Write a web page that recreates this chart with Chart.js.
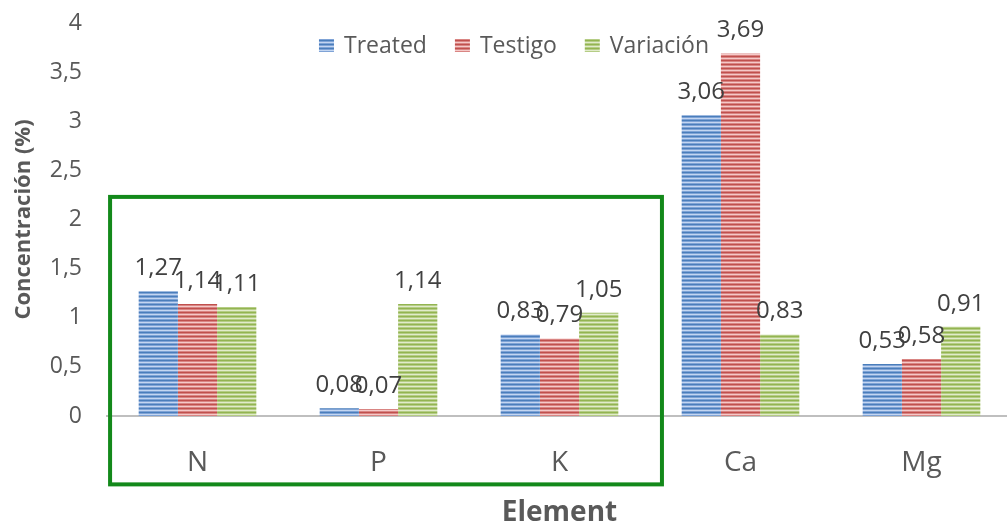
<!DOCTYPE html>
<html>
<head>
<meta charset="utf-8">
<script src="https://cdn.jsdelivr.net/npm/chart.js@4"></script>
<style>
html, body { margin: 0; padding: 0; background: #fff; overflow: hidden; }
#wrap { width: 1007px; height: 524px; overflow: hidden; }
</style>
</head>
<body>
<div id="wrap"><canvas id="chart" width="1012" height="524"></canvas></div>
<script>
// === Datos ===
const elements = ["N", "P", "K", "Ca", "Mg"];
const treated = [1.27, 0.08, 0.83, 3.06, 0.53];
const testigo = [1.14, 0.07, 0.79, 3.69, 0.58];
const variacion = [1.11, 1.14, 1.05, 0.83, 0.91];
const seriesNames = ["Treated", "Testigo", "Variación"];
const yTicks = [0, 0.5, 1, 1.5, 2, 2.5, 3, 3.5, 4];

const FONT = "'Open Sans', sans-serif";
const TEXT = "#595959";

// relleno rayado tipo Excel
function stripes(dark, mid, light) {
    const c = document.createElement("canvas");
    c.width = 4; c.height = 4;
    const g = c.getContext("2d");
    g.fillStyle = dark; g.fillRect(0, 0, 4, 4);
    g.fillStyle = mid; g.fillRect(0, 1, 4, 1);
    g.fillStyle = light; g.fillRect(0, 2, 4, 1);
    g.fillStyle = mid; g.fillRect(0, 3, 4, 1);
    return g.createPattern(c, "repeat");
}

const fills = [
    stripes("#4a7ebb", "#7fa3d6", "#c3d6f1"),
    stripes("#c0504d", "#d98583", "#f5c9c8"),
    stripes("#93b451", "#b5cd85", "#e1ebcb"),
];

const fmt = v => v.toFixed(2).replace(".", ",");

// === Etiquetas de datos ===
const valueLabels = {
    id: "valueLabels",
    afterDatasetsDraw(chart) {
        const ctx = chart.ctx;
        ctx.save();
        ctx.font = "24px " + FONT;
        ctx.fillStyle = "#404040";
        ctx.textAlign = "center";
        ctx.textBaseline = "alphabetic";
        chart.data.datasets.forEach((ds, i) => {
            chart.getDatasetMeta(i).data.forEach((bar, j) => {
                ctx.fillText(fmt(ds.data[j]), bar.x, bar.y - 16);
            });
        });
        ctx.restore();
    }
};

// === Leyenda dentro del área ===
const topLegend = {
    id: "topLegend",
    afterDraw(chart) {
        const ctx = chart.ctx;
        ctx.save();
        ctx.font = "23px " + FONT;
        const box = 15, gap = 10, space = 28;
        const items = chart.data.datasets.map(d => ({ label: d.label, fill: d.backgroundColor, w: ctx.measureText(d.label).width }));
        const total = items.reduce((s, it) => s + box + gap + it.w, 0) + space * (items.length - 1);
        let x = 514 - total / 2;
        const y = 46;
        ctx.textBaseline = "middle";
        items.forEach(it => {
            ctx.fillStyle = it.fill;
            ctx.fillRect(x, y - 7, box, 13);
            ctx.fillStyle = TEXT;
            ctx.fillText(it.label, x + box + gap, y);
            x += box + gap + it.w + space;
        });
        ctx.restore();
    }
};

// === Recuadro verde (N, P, K) ===
const highlight = { fromX: -0.483, toX: 2.566, topY: 2.23, bottomY: -0.696 };
const greenBox = {
    id: "greenBox",
    afterDraw(chart) {
        const { x, y } = chart.scales;
        const ctx = chart.ctx;
        const l = x.getPixelForValue(highlight.fromX), r = x.getPixelForValue(highlight.toX);
        const t = y.getPixelForValue(highlight.topY), b = y.getPixelForValue(highlight.bottomY);
        ctx.save();
        ctx.strokeStyle = "#13891a";
        ctx.lineWidth = 4;
        ctx.strokeRect(l, t, r - l, b - t);
        ctx.restore();
    }
};

new Chart(document.getElementById("chart"), {
    type: "bar",
    data: {
        labels: elements,
        datasets: [treated, testigo, variacion].map((data, i) => ({
            label: seriesNames[i],
            data,
            backgroundColor: fills[i],
            borderWidth: 0,
            barPercentage: 1,
            categoryPercentage: 0.65,
        })),
    },
    options: {
        responsive: false,
        animation: false,
        layout: { padding: { top: 23, left: 0, right: 0, bottom: 0 } },
        plugins: { legend: { display: false }, tooltip: { enabled: false } },
        scales: {
            x: {
                grid: { display: false, drawTicks: false },
                border: { display: true, color: "#bfbfbf", width: 2 },
                ticks: { color: TEXT, font: { family: FONT, size: 28 }, padding: 30 },
                title: { display: true, text: "Element", color: TEXT, font: { family: FONT, size: 28, weight: "bold", lineHeight: 0.8 }, padding: { top: 0, bottom: 0 } },
                afterFit(s) { s.height = 108; },
            },
            y: {
                min: 0, max: 4,
                grid: { display: false, drawTicks: false },
                border: { display: false },
                afterBuildTicks(s) { s.ticks = yTicks.map(v => ({ value: v })); },
                ticks: { color: TEXT, font: { family: FONT, size: 23 }, padding: 25, callback: v => String(v).replace(".", ",") },
                title: { display: true, text: "Concentración (%)", color: TEXT, font: { family: FONT, size: 22, weight: "bold" }, padding: { top: 11, bottom: 0 } },
                afterFit(s) { s.width = 107; s.paddingTop = 0; s.paddingBottom = 0; },
            },
        },
    },
    plugins: [valueLabels, topLegend, greenBox],
});
</script>
</body>
</html>
